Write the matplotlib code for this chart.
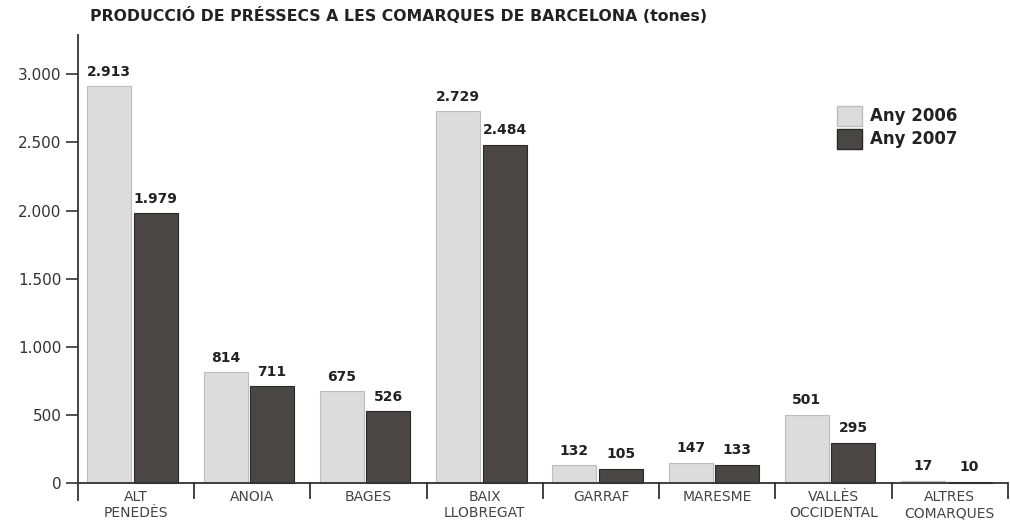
import numpy as np
import matplotlib.pyplot as plt
from matplotlib.patches import Patch

plt.rcParams['font.family'] = ['DejaVu Sans']

comarques = ['ALT\nPENEDÈS', 'ANOIA', 'BAGES', 'BAIX\nLLOBREGAT', 'GARRAF',
             'MARESME', 'VALLÈS\nOCCIDENTAL', 'ALTRES\nCOMARQUES']
any2006 = [2913, 814, 675, 2729, 132, 147, 501, 17]
any2007 = [1979, 711, 526, 2484, 105, 133, 295, 10]
yticks = [0, 500, 1000, 1500, 2000, 2500, 3000]
ylabels = ['0', '500', '1.000', '1.500', '2.000', '2.500', '3.000']


def fmt(v):
    return '{:,}'.format(v).replace(',', '.')


fig = plt.figure(figsize=(10.1, 5.28), dpi=100)
ax = fig.add_axes([0.0772, 0.053, 0.9208, 0.881])

x = np.arange(len(comarques)) + 0.47
w = 0.38
gap = 0.01
b1 = ax.bar(x - w / 2 - gap, any2006, w, color='#dcdcdc', edgecolor='#bdbdbd', linewidth=0.8)
b2 = ax.bar(x + w / 2 + gap, any2007, w, color='#4a4646', edgecolor='#2a2828', linewidth=0.8)

for bars, vals in ((b1, any2006), (b2, any2007)):
    for r, v in zip(bars, vals):
        ax.text(r.get_x() + r.get_width() / 2, v + 55, fmt(v), ha='center', va='bottom',
                fontsize=10, fontweight='bold', color='#222222')

ax.set_xlim(0, len(comarques))
ax.set_ylim(-125, 3290)
ax.set_yticks(yticks)
ax.set_yticklabels(ylabels, fontsize=11, color='#333333')
ax.tick_params(axis='y', length=9, width=1.2, color='#333333', pad=3)
ax.set_xticks([])

for s in ['top', 'right', 'bottom']:
    ax.spines[s].set_visible(False)
ax.spines['left'].set_linewidth(1.3)
ax.spines['left'].set_color('#333333')

ax.axhline(0, color='#333333', lw=1.3)
for i in range(1, len(comarques) + 1):
    ax.plot([i, i], [0, -110], color='#333333', lw=1.3, clip_on=False)

for xi, lab in zip(np.arange(len(comarques)) + 0.5, comarques):
    ax.text(xi, -50, lab, ha='center', va='top', fontsize=10, color='#444444',
            linespacing=1.2)

ax.text(0.1, 3370, 'PRODUCCIÓ DE PRÉSSECS A LES COMARQUES DE BARCELONA (tones)',
        fontsize=11.3, fontweight='bold', color='#222222', va='bottom')

handles = [Patch(facecolor='#dcdcdc', edgecolor='#bdbdbd', label='Any 2006'),
           Patch(facecolor='#4a4646', edgecolor='#2a2828', label='Any 2007')]
leg = ax.legend(handles=handles, loc='upper left', bbox_to_anchor=(0.80, 0.88),
                frameon=False, prop={'size': 12, 'weight': 'bold'},
                handlelength=1.5, handleheight=1.5, labelspacing=0.15, handletextpad=0.5)
for t in leg.get_texts():
    t.set_color('#222222')

fig.savefig('out.png', dpi=100)
